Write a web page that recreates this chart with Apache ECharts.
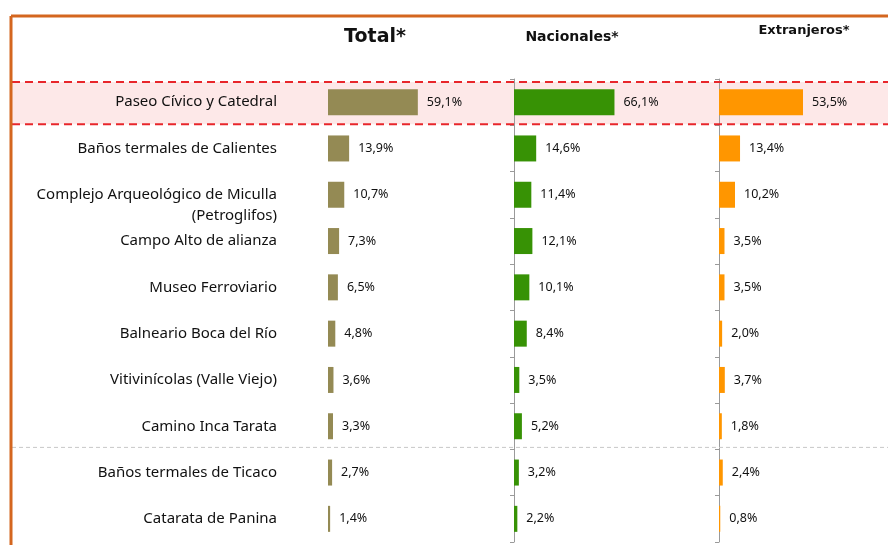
<!DOCTYPE html>
<html>
<head>
<meta charset="utf-8">
<script src="https://cdn.jsdelivr.net/npm/echarts@6/dist/echarts.min.js"></script>
<style>
  html, body { margin: 0; padding: 0; background: #fff; }
  #main { width: 888px; height: 545px; }
</style>
</head>
<body>
<div id="main"></div>
<script>
// datos
var categories = [
    'Paseo Cívico y Catedral',
    'Baños termales de Calientes',
    '\nComplejo Arqueológico de Miculla\n(Petroglifos)',
    'Campo Alto de alianza',
    'Museo Ferroviario',
    'Balneario Boca del Río',
    'Vitivinícolas (Valle Viejo)',
    'Camino Inca Tarata',
    'Baños termales de Ticaco',
    'Catarata de Panina'
];
var totalValues = [59.1, 13.9, 10.7, 7.3, 6.5, 4.8, 3.6, 3.3, 2.7, 1.4];
var nacionalesValues = [66.1, 14.6, 11.4, 12.1, 10.1, 8.4, 3.5, 5.2, 3.2, 2.2];
var extranjerosValues = [53.5, 13.4, 10.2, 3.5, 3.5, 2.0, 3.7, 1.8, 2.4, 0.8];
var headers = ['Total*', 'Nacionales*', 'Extranjeros*'];

var myChart = echarts.init(document.getElementById('main'));

var gridTop = 79, gridHeight = 463;
var rowH = gridHeight / categories.length;
var fontFamily = 'Noto Sans';

function pct(p) {
    return p.value.toFixed(1).replace('.', ',') + '%';
}

function makeYAxis(idx, showLine, showLabel) {
    return {
        type: 'category',
        gridIndex: idx,
        inverse: true,
        data: categories,
        axisLine: { show: showLine, lineStyle: { color: '#9a9a9a', width: 1 } },
        axisTick: { show: showLine, length: 4, inside: false, lineStyle: { color: '#9a9a9a' } },
        axisLabel: {
            show: showLabel,
            margin: 51,
            fontFamily: fontFamily,
            fontSize: 15,
            lineHeight: 21,
            color: '#111'
        },
        splitLine: { show: false }
    };
}

function makeXAxis(idx) {
    return {
        type: 'value',
        gridIndex: idx,
        min: 0,
        max: 100,
        show: false
    };
}

function makeSeries(idx, values, color) {
    return {
        type: 'bar',
        xAxisIndex: idx,
        yAxisIndex: idx,
        data: values,
        barWidth: 26,
        itemStyle: { color: color },
        label: {
            show: true,
            position: 'right',
            distance: 9,
            fontFamily: fontFamily,
            fontSize: 12.5,
            color: '#111',
            formatter: pct
        }
    };
}

var lineY1 = gridTop + 3;
var lineY2 = gridTop + rowH - 1;
var grayY = gridTop + rowH * 8 - 2;

var option = {
    backgroundColor: '#ffffff',
    animation: false,
    grid: [
        { left: 328, width: 152, top: gridTop, height: gridHeight, outerBoundsMode: 'none' },
        { left: 514, width: 152, top: gridTop, height: gridHeight, outerBoundsMode: 'none' },
        { left: 719, width: 157, top: gridTop, height: gridHeight, outerBoundsMode: 'none' }
    ],
    xAxis: [makeXAxis(0), makeXAxis(1), makeXAxis(2)],
    yAxis: [makeYAxis(0, false, true), makeYAxis(1, true, false), makeYAxis(2, true, false)],
    series: [
        makeSeries(0, totalValues, '#948a54'),
        makeSeries(1, nacionalesValues, '#379205'),
        makeSeries(2, extranjerosValues, '#ff9600')
    ],
    graphic: [
        // fila destacada
        { type: 'rect', z: -5, silent: true, shape: { x: 12, y: lineY1, width: 876, height: lineY2 - lineY1 }, style: { fill: '#fde8e8' } },
        { type: 'line', z: 10, silent: true, shape: { x1: 12, y1: lineY1, x2: 888, y2: lineY1 }, style: { stroke: '#e8262b', lineWidth: 2, lineDash: [8, 5] } },
        { type: 'line', z: 10, silent: true, shape: { x1: 12, y1: lineY2, x2: 888, y2: lineY2 }, style: { stroke: '#e8262b', lineWidth: 2, lineDash: [8, 5] } },
        { type: 'line', z: 10, silent: true, shape: { x1: 12, y1: grayY, x2: 888, y2: grayY }, style: { stroke: '#c8c8c8', lineWidth: 1, lineDash: [4, 3] } },
        // marco naranja
        { type: 'line', z: 10, silent: true, shape: { x1: 11, y1: 16, x2: 888, y2: 16 }, style: { stroke: '#d4661f', lineWidth: 3 } },
        { type: 'line', z: 10, silent: true, shape: { x1: 11, y1: 16, x2: 11, y2: 545 }, style: { stroke: '#d4661f', lineWidth: 3 } },
        // encabezados
        { type: 'text', x: 375, y: 37, style: { text: headers[0], fill: '#111', font: 'bold 19px "DejaVu Sans"', align: 'center', verticalAlign: 'middle' } },
        { type: 'text', x: 572, y: 37, style: { text: headers[1], fill: '#111', font: 'bold 14px "DejaVu Sans"', align: 'center', verticalAlign: 'middle' } },
        { type: 'text', x: 804, y: 31, style: { text: headers[2], fill: '#111', font: 'bold 13px "DejaVu Sans"', align: 'center', verticalAlign: 'middle' } }
    ]
};

myChart.setOption(option);
</script>
</body>
</html>
